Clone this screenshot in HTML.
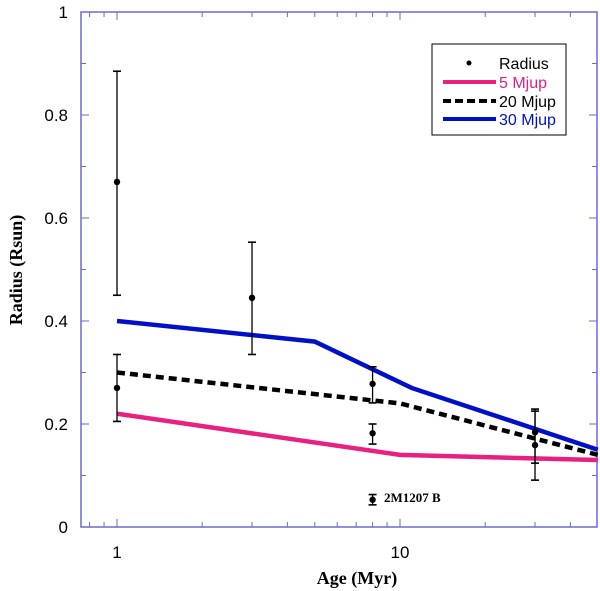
<!DOCTYPE html>
<html><head><meta charset="utf-8"><style>
html,body{margin:0;padding:0;background:#fff;}
svg{display:block;}
</style></head><body>
<svg id="chart" width="600" height="591" xmlns="http://www.w3.org/2000/svg">
<g id="axes"></g>
<g id="series"></g>
<g id="points"></g>
<text transform="translate(22,270) rotate(-90)" text-anchor="middle" font-family="Liberation Serif, serif" font-weight="bold" font-size="18">Radius (Rsun)</text>
<text x="357" y="584" text-anchor="middle" font-family="Liberation Serif, serif" font-weight="bold" font-size="18">Age (Myr)</text>
<g>
<rect x="432" y="44" width="134" height="91" fill="#fff" stroke="#000" stroke-width="1"/>
<circle cx="469" cy="63" r="2.5" fill="#000"/>
<text x="499" y="69" font-family="Liberation Sans, sans-serif" font-size="16" fill="#000">Radius</text>
<line x1="443" y1="82" x2="496" y2="82" stroke="#e8207f" stroke-width="4"/>
<text x="499" y="88" font-family="Liberation Sans, sans-serif" font-size="16" fill="#e0207f">5 Mjup</text>
<line x1="443" y1="101" x2="496" y2="101" stroke="#000" stroke-width="4" stroke-dasharray="8,4"/>
<text x="499" y="107" font-family="Liberation Sans, sans-serif" font-size="16" fill="#000">20 Mjup</text>
<line x1="443" y1="119" x2="496" y2="119" stroke="#0010c8" stroke-width="4"/>
<text x="499" y="125" font-family="Liberation Sans, sans-serif" font-size="16" fill="#0010c8">30 Mjup</text>
</g>
<text x="384" y="502" font-family="Liberation Serif, serif" font-weight="bold" font-size="13">2M1207 B</text>
</svg>
<script>
const yTicks=[0,0.2,0.4,0.6,0.8,1];
const xTickLabels=[1,10];
const xMinor=[0.8,0.9,1,2,3,4,5,6,7,8,9,10,20,30,40,50];
const ages5=[1,10,50]; const rad5=[0.22,0.14,0.13];
const ages20=[1,10,50]; const rad20=[0.30,0.24,0.14];
const ages30=[1,5,11,50]; const rad30=[0.40,0.36,0.27,0.15];
const ptAge=[1,1,3,8,8,8,30,30];
const ptRad=[0.67,0.27,0.445,0.278,0.182,0.053,0.184,0.159];
const ptLo=[0.45,0.205,0.335,0.241,0.161,0.043,0.124,0.091];
const ptHi=[0.885,0.335,0.553,0.311,0.2,0.063,0.229,0.225];
const L=81,R=597,T=12,B=527;
const xs=v=>117+283*Math.log10(v);
const ys=v=>B-515*v;
const NS='http://www.w3.org/2000/svg';
function mk(tag,attrs,parent){const e=document.createElementNS(NS,tag);for(const k in attrs)e.setAttribute(k,attrs[k]);parent.appendChild(e);return e;}
const ax=document.getElementById('axes');
const frame=mk('rect',{x:L,y:T,width:R-L,height:B-T,fill:'none',stroke:'#6a6ad0','stroke-width':1.5},ax);


for(let v=0;v<=1.001;v+=0.1){
  const big=Math.abs(v*5-Math.round(v*5))<1e-6;const len=big?8:5;const y=ys(v);
  const t1=mk('line',{x1:L,y1:y,x2:L+len,y2:y,stroke:'#6a6ad0','stroke-width':1},ax);
  
  
  const t2=mk('line',{x1:R,y1:y,x2:R-len,y2:y,stroke:'#6a6ad0','stroke-width':1},ax);
  
  
}
yTicks.forEach(v=>{const t=mk('text',{x:68,y:ys(v)+6,'text-anchor':'end','font-family':'Liberation Sans, sans-serif','font-size':17},ax);t.textContent=String(v);
  
  });
xMinor.forEach(v=>{const x=xs(v);if(x<L||x>R)return;const len=(v===1||v===10)?8:5;
  const a=mk('line',{x1:x,y1:B,x2:x,y2:B-len,stroke:'#6a6ad0','stroke-width':1},ax);
  
  
  const b=mk('line',{x1:x,y1:T,x2:x,y2:T+len,stroke:'#6a6ad0','stroke-width':1},ax);
  
  });
xTickLabels.forEach(v=>{const t=mk('text',{x:xs(v),y:B+31,'text-anchor':'middle','font-family':'Liberation Sans, sans-serif','font-size':17},ax);t.textContent=String(v);
  
  });
const sg=document.getElementById('series');
function line(ages,rad,color,dash,name){const p=ages.map((a,i)=>xs(a)+','+ys(rad[i])).join(' ');
  const e=mk('polyline',{points:p,fill:'none',stroke:color,'stroke-width':4.5},sg);if(dash)e.setAttribute('stroke-dasharray',dash);
  
  }
line(ages5,rad5,'#e8207f',null,'line-5-mjup');
line(ages20,rad20,'#000','8,5','line-20-mjup');
line(ages30,rad30,'#0010c8',null,'line-30-mjup');
const pg=document.getElementById('points');
ptAge.forEach((a,i)=>{const x=xs(a);
  const g=mk('g',{},pg);
  
  
  mk('line',{x1:x,y1:ys(ptLo[i]),x2:x,y2:ys(ptHi[i]),stroke:'#000','stroke-width':1.3},g);
  mk('line',{x1:x-4,y1:ys(ptLo[i]),x2:x+4,y2:ys(ptLo[i]),stroke:'#000','stroke-width':1.6},g);
  mk('line',{x1:x-4,y1:ys(ptHi[i]),x2:x+4,y2:ys(ptHi[i]),stroke:'#000','stroke-width':1.6},g);
  mk('circle',{cx:x,cy:ys(ptRad[i]),r:3.2,fill:'#000'},g);});
</script>
</body></html>
